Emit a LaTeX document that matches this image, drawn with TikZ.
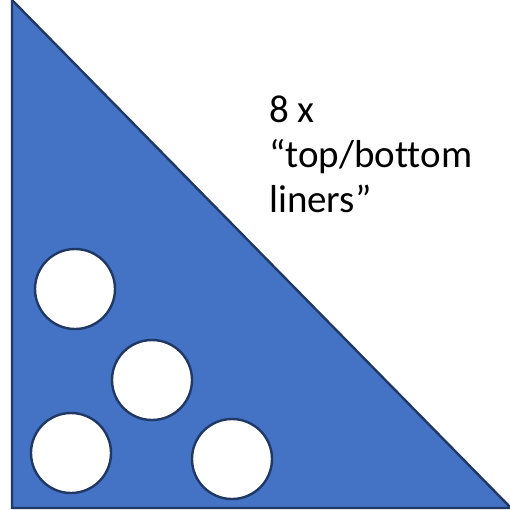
\documentclass[tikz,border=0pt]{standalone}
\usepackage{fontspec}
\setmainfont{Carlito}[Ligatures=NoCommon]
\definecolor{plate}{HTML}{4472C4}
\definecolor{rim}{HTML}{1F3864}

\begin{document}
\begin{tikzpicture}[x=1pt, y=-1pt, line width=2.4pt,
  hole/.style={circle, draw=rim, fill=white, minimum size=80pt, inner sep=0pt}]
  \useasboundingbox (0,0) rectangle (510,510);
  \coordinate (A) at (12,0);
  \coordinate (B) at (12,508);
  \coordinate (C) at (511,508);
  % plancha triangular
  \filldraw[fill=plate, draw=rim, line join=miter] (A)--(B)--(C)--cycle;
  % agujeros
  \node[hole] (h1) at (75,289) {};
  \node[hole] (h2) at (152,380) {};
  \node[hole] (h3) at (71,453) {};
  \node[hole] (h4) at (232,459) {};
  \node[anchor=base west, inner sep=0pt, align=left, font=\fontsize{39}{45}\selectfont]
    (label) at (268,213) {8 x\\“top/bottom\\liners”};
\end{tikzpicture}
\end{document}
